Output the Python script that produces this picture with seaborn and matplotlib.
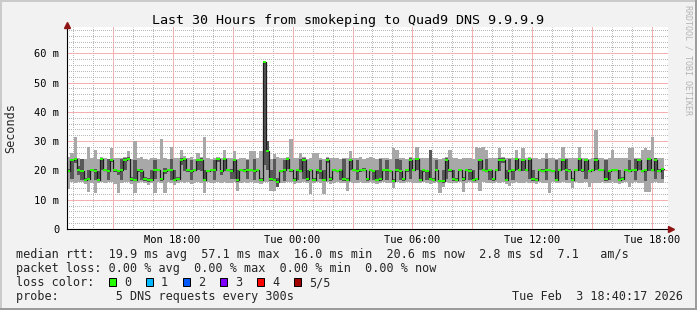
import numpy as np
import pandas as pd
import matplotlib
matplotlib.use("Agg")
import matplotlib.pyplot as plt
import seaborn as sns
from matplotlib.patches import Rectangle
from matplotlib.ticker import FixedLocator

# ---------------- data (ms), one value per ~10 min sample ----------------
median = [19.9, 23.6, 23.9, 20.1, 19.8, 16.9, 17.2, 20.0, 19.9, 16.8,
          23.8, 20.1, 19.9, 23.5, 20.0, 19.9, 20.2, 23.7, 24.0, 17.0,
          16.9, 20.0, 19.8, 17.1, 16.8, 16.9, 20.0, 20.1, 17.0, 19.9,
          20.0, 20.1, 16.9, 17.2, 23.6, 23.9, 20.0, 19.9, 20.1, 23.7,
          23.5, 16.9, 19.9, 20.0, 20.0, 23.8, 19.9, 24.0, 20.1, 19.9,
          23.6, 16.8, 20.0, 19.9, 20.1, 20.0, 19.9, 20.0, 16.9, 57.1,
          26.7, 17.0, 16.9, 16.0, 19.8, 20.1, 23.9, 20.0, 16.9, 20.0,
          19.9, 23.7, 17.0, 20.1, 16.9, 20.0, 19.9, 16.8, 23.5, 17.1,
          20.0, 19.9, 20.1, 17.0, 16.9, 23.6, 20.0, 19.9, 20.1, 20.0,
          17.0, 20.0, 19.9, 16.9, 17.1, 20.0, 20.1, 19.9, 16.4, 20.0,
          19.9, 17.0, 20.0, 23.5, 20.1, 23.8, 16.9, 20.0, 19.9, 17.1,
          16.9, 20.0, 16.4, 16.5, 23.7, 20.0, 17.0, 16.9, 20.1, 17.0,
          20.0, 19.9, 16.9, 17.1, 23.6, 20.0, 19.9, 20.1, 17.0, 20.0,
          23.7, 23.5, 16.8, 19.9, 20.0, 23.8, 20.0, 23.6, 20.1, 23.9,
          17.0, 16.8, 20.0, 19.9, 20.1, 20.0, 19.9, 16.9, 20.0, 23.6,
          20.0, 19.9, 16.9, 20.1, 23.8, 20.0, 23.5, 19.9, 20.0, 23.7,
          20.0, 20.1, 17.0, 19.9, 20.0, 20.1, 16.9, 17.1, 20.0, 19.9,
          20.1, 20.0, 23.6, 19.9, 20.0, 23.8, 20.0, 23.5, 19.9, 20.6]

ping_min = [13.5, 16.0, 15.8, 16.2, 15.9, 15.5, 12.5, 15.8, 12.2, 15.6,
            16.1, 15.7, 15.9, 16.0, 15.5, 12.3, 15.8, 16.0, 15.9, 15.4,
            12.2, 15.8, 16.0, 15.6, 15.2, 15.8, 12.4, 15.9, 15.7, 12.3,
            15.9, 15.6, 15.2, 15.8, 16.0, 15.7, 15.9, 15.5, 15.8, 16.0,
            15.7, 12.4, 15.9, 15.6, 15.8, 16.0, 15.7, 15.9, 15.6, 15.8,
            15.9, 13.0, 15.8, 16.0, 15.7, 15.9, 15.6, 15.8, 15.5, 16.0,
            16.0, 13.0, 13.0, 14.5, 15.8, 15.7, 16.0, 15.9, 15.5, 15.8,
            15.7, 15.9, 15.8, 12.0, 15.6, 15.9, 15.7, 12.0, 15.9, 15.5,
            15.8, 15.9, 15.7, 15.6, 13.0, 15.9, 15.8, 15.7, 16.0, 15.8,
            15.7, 15.9, 15.8, 15.5, 15.7, 15.9, 15.6, 15.8, 14.0, 15.9,
            15.8, 15.6, 15.9, 16.0, 15.7, 15.8, 15.6, 15.9, 15.8, 15.5,
            15.6, 15.9, 12.2, 14.5, 15.9, 15.7, 15.8, 15.6, 15.9, 12.6,
            15.7, 15.9, 15.6, 15.8, 13.0, 15.9, 15.7, 15.8, 15.6, 15.9,
            15.8, 15.9, 15.5, 14.8, 15.7, 15.9, 15.8, 15.6, 15.9, 15.8,
            15.6, 15.5, 15.9, 15.7, 15.8, 12.2, 15.9, 15.6, 15.8, 15.9,
            15.7, 15.8, 14.0, 15.9, 15.8, 15.6, 15.9, 14.5, 15.8, 15.7,
            15.8, 15.9, 15.6, 15.8, 15.9, 15.7, 15.5, 15.8, 15.9, 14.5,
            15.7, 15.9, 15.8, 15.6, 12.6, 12.8, 15.7, 15.9, 15.8, 15.6]

ping_q1 = [19.5, 17.0, 22.5, 18.6, 16.8, 16.3, 16.6, 19.8, 16.9, 16.4,
           20.1, 19.7, 16.8, 23.0, 19.5, 18.4, 16.9, 20.1, 23.5, 16.5,
           16.3, 19.6, 16.7, 16.5, 16.2, 16.6, 17.0, 19.8, 16.5, 18.8,
           19.7, 16.9, 16.3, 16.6, 22.0, 19.9, 19.4, 16.8, 19.8, 20.2,
           19.7, 16.5, 19.6, 19.8, 16.8, 23.0, 18.5, 19.9, 19.8, 17.0,
           17.0, 16.2, 19.9, 19.5, 17.0, 19.7, 16.8, 19.8, 16.4, 22.0,
           20.0, 16.3, 16.4, 14.5, 19.5, 16.5, 20.5, 19.6, 16.3, 16.8,
           19.8, 17.0, 16.5, 19.7, 16.4, 18.9, 17.0, 16.3, 22.5, 16.5,
           19.9, 19.5, 16.9, 16.4, 16.5, 20.1, 19.8, 16.7, 19.6, 19.9,
           16.5, 19.7, 16.7, 16.3, 16.5, 19.8, 16.6, 19.8, 16.0, 19.4,
           16.9, 16.5, 19.6, 17.0, 19.8, 20.0, 16.4, 19.5, 16.7, 16.6,
           16.3, 19.8, 15.9, 15.8, 17.0, 19.6, 16.5, 16.4, 19.9, 16.3,
           19.7, 16.8, 16.4, 16.6, 20.0, 19.8, 19.5, 16.9, 16.5, 19.9,
           19.9, 22.5, 16.3, 19.6, 16.9, 20.1, 19.8, 19.9, 19.7, 17.0,
           16.5, 16.3, 19.8, 19.6, 16.7, 19.7, 19.8, 16.5, 19.9, 20.0,
           16.9, 19.8, 16.4, 19.7, 19.9, 19.6, 17.0, 19.8, 19.9, 20.2,
           19.8, 19.9, 16.5, 16.7, 19.7, 19.8, 16.3, 16.6, 19.8, 19.5,
           19.9, 16.9, 20.0, 19.7, 16.5, 19.9, 19.8, 17.0, 19.6, 17.0]

ping_q3 = [20.4, 24.0, 24.3, 21.5, 23.8, 17.4, 20.2, 20.3, 20.6, 19.9,
           24.2, 20.5, 23.9, 24.0, 20.4, 20.3, 23.8, 24.1, 24.5, 17.6,
           23.6, 20.4, 20.5, 17.6, 17.3, 20.0, 23.7, 20.5, 17.5, 21.0,
           20.3, 23.8, 20.0, 17.6, 24.1, 24.3, 20.4, 23.7, 20.4, 24.0,
           24.2, 20.1, 20.3, 20.3, 23.6, 24.4, 20.2, 24.3, 20.5, 20.4,
           24.0, 20.0, 20.3, 20.4, 23.6, 20.2, 23.9, 20.4, 17.5, 57.1,
           30.0, 20.1, 23.8, 17.5, 20.2, 23.7, 24.2, 20.6, 17.4, 20.3,
           23.8, 24.1, 20.0, 20.5, 17.4, 20.3, 23.6, 20.0, 24.2, 17.6,
           20.4, 20.3, 20.2, 23.9, 17.3, 24.0, 20.3, 23.6, 20.4, 21.0,
           17.5, 20.3, 20.3, 20.1, 23.8, 20.4, 23.6, 20.2, 17.0, 24.0,
           23.7, 17.5, 20.3, 24.1, 20.4, 24.3, 20.0, 20.6, 20.2, 26.9,
           17.5, 23.7, 16.9, 20.0, 24.2, 20.3, 20.1, 17.4, 20.3, 17.6,
           20.4, 20.4, 20.0, 17.5, 24.0, 20.3, 23.9, 20.2, 17.5, 20.4,
           24.1, 24.3, 20.0, 23.8, 20.3, 24.2, 20.5, 24.0, 20.4, 24.3,
           20.0, 17.4, 20.3, 20.4, 23.9, 20.1, 20.3, 23.7, 20.2, 24.0,
           23.8, 20.4, 17.4, 20.3, 24.2, 20.3, 23.9, 20.2, 20.3, 24.1,
           20.3, 20.4, 23.6, 20.1, 20.4, 20.4, 20.0, 17.6, 20.3, 23.7,
           20.4, 23.9, 24.0, 20.3, 20.5, 24.2, 20.4, 24.1, 20.6, 20.8]

ping_max = [24.5, 26.0, 31.4, 24.3, 24.0, 23.8, 28.0, 24.4, 27.0, 24.0,
            24.6, 24.2, 24.0, 27.5, 24.3, 24.1, 24.4, 24.6, 26.5, 24.0,
            30.0, 24.2, 24.5, 24.0, 23.5, 24.1, 24.4, 24.0, 30.6, 24.3,
            24.0, 28.0, 24.2, 24.4, 27.0, 24.8, 24.3, 24.5, 24.0, 26.0,
            24.6, 31.5, 24.4, 24.0, 24.3, 24.7, 24.2, 27.0, 24.4, 24.1,
            26.5, 24.0, 24.2, 24.4, 24.0, 26.5, 26.6, 24.3, 26.6, 57.1,
            30.0, 24.0, 25.5, 24.5, 24.2, 24.4, 24.6, 30.8, 24.1, 24.3,
            26.0, 24.5, 24.0, 24.4, 26.0, 26.0, 24.2, 24.0, 24.6, 24.3,
            24.4, 24.2, 24.0, 24.4, 24.1, 26.5, 24.3, 24.2, 24.5, 24.0,
            24.2, 24.5, 24.1, 24.0, 24.4, 24.2, 24.3, 24.0, 27.6, 27.0,
            24.4, 24.2, 24.0, 24.6, 24.3, 28.0, 24.2, 24.4, 24.1, 26.9,
            24.2, 24.4, 24.0, 24.3, 24.6, 27.0, 24.2, 24.4, 24.0, 24.3,
            24.4, 24.2, 24.0, 28.0, 27.5, 28.0, 27.0, 24.3, 24.2, 24.4,
            27.5, 24.6, 24.2, 24.4, 24.3, 27.0, 24.2, 27.5, 24.4, 24.6,
            24.2, 24.4, 24.0, 24.3, 26.0, 24.2, 24.4, 24.0, 24.3, 28.0,
            24.2, 24.4, 24.1, 24.3, 28.0, 24.4, 24.2, 24.0, 24.3, 33.8,
            24.4, 24.2, 24.0, 24.3, 27.0, 24.4, 24.1, 24.2, 24.4, 27.5,
            27.5, 24.2, 24.4, 27.0, 27.5, 27.0, 31.5, 24.4, 24.3, 24.2]

# time span of the samples, hours since Mon 00:00
t_first = 12 + 43 / 60
t_last = 42 + 35 / 60
view_start = 12 + 43 / 60
view_end = 42 + 47 / 60

tick_hours = [18, 24, 30, 36, 42]
tick_labels = ["Mon 18:00", "Tue 00:00", "Tue 06:00", "Tue 12:00", "Tue 18:00"]
ytick_vals = [0, 10, 20, 30, 40, 50, 60]
ytick_labels = ["0", "10 m", "20 m", "30 m", "40 m", "50 m", "60 m"]

title = "Last 30 Hours from smokeping to Quad9 DNS 9.9.9.9"
line_median = "median rtt:  19.9 ms avg  57.1 ms max  16.0 ms min  20.6 ms now  2.8 ms sd  7.1   am/s"
line_loss = "packet loss: 0.00 % avg  0.00 % max  0.00 % min  0.00 % now"
line_probe = "probe:        5 DNS requests every 300s"
stamp = "Tue Feb  3 18:40:17 2026"
loss_labels = ["0", "1", "2", "3", "4", "5/5"]
loss_colors = ["#26ff00", "#00b8ff", "#0059ff", "#7e00ff", "#ff0000", "#a10000"]

# ---------------- build table ----------------
n = len(median)
edges = np.linspace(t_first, t_last, n + 1)
df = pd.DataFrame({"t": edges[:-1], "t_end": edges[1:], "median": median,
                   "p1": ping_min, "p2": ping_q1, "p4": ping_q3, "p5": ping_max})
df["p2"] = np.minimum(df["p2"], df["median"])
df["p4"] = np.maximum(df["p4"], df["median"])

def ext(col):
    v = df[col].to_numpy()
    return np.append(v, v[-1])

W, H = 697, 310
BG = "#f2f2f2"
sns.set_theme(style="white")
plt.rcParams["font.family"] = ["DejaVu Sans Mono", "DejaVu Sans"]
plt.rcParams["lines.scale_dashes"] = False

fig = plt.figure(figsize=(W / 100, H / 100), dpi=100, facecolor=BG)
ax_l, ax_r, ax_t, ax_b = 67.0, 668.0, 27.0, 229.0
ax = fig.add_axes([ax_l / W, (H - ax_b) / H, (ax_r - ax_l) / W, (ax_b - ax_t) / H])
ax.set_facecolor("white")

# smoke
ax.fill_between(edges, ext("p1"), ext("p2"), step="post", color="#a8a8a8", lw=0, zorder=1)
ax.fill_between(edges, ext("p4"), ext("p5"), step="post", color="#a8a8a8", lw=0, zorder=1)
ax.fill_between(edges, ext("p2"), ext("p4"), step="post", color="#585858", lw=0, zorder=1.2)

# median line: dark connectors, green level segments
sns.lineplot(x=edges, y=ext("median"), drawstyle="steps-post", color="#1c1c1c",
             lw=0.9, ax=ax, estimator=None, sort=False, zorder=3)
ax.hlines(df["median"], df["t"], df["t_end"], colors=loss_colors[0], lw=1.4, zorder=4)

ax.set_xlim(view_start, view_end)
ax.set_ylim(0, 69)

# grid below the smoke: minor dotted grey, major light red (no overlaps)
major_x = [h for h in range(13, 43) if h % 3 == 0]
minor_x = [h for h in range(13, 43) if h % 3 != 0]
minor_y = [v for v in range(2, 69, 2) if v % 10 != 0]
ax.set_xticks(major_x)
ax.set_xticklabels([tick_labels[tick_hours.index(h)] if h in tick_hours else "" for h in major_x])
ax.set_yticks(ytick_vals)
ax.set_yticklabels(ytick_labels)
ax.xaxis.set_minor_locator(FixedLocator(minor_x))
ax.yaxis.set_minor_locator(FixedLocator(minor_y))
ax.set_axisbelow(True)
dots = (0.36, (0.72, 0.72))
ax.grid(which="minor", color="#b8b8b8", ls=dots, lw=0.72, antialiased=True)
ax.grid(which="major", color="#f5b0b0", ls=dots, lw=0.72, antialiased=False, snap=True)

ax.tick_params(axis="both", which="major", direction="out", length=2.2, width=0.72,
               color="black", labelsize=7.5, labelcolor="black")
ax.tick_params(axis="both", which="minor", direction="out", length=1.4, width=0.72, color="black")
ax.tick_params(axis="x", which="major", pad=2.2)
ax.tick_params(axis="y", which="major", pad=3.2)

for s in ["top", "right"]:
    ax.spines[s].set_visible(False)
for s in ["left", "bottom"]:
    ax.spines[s].set_color("black")
    ax.spines[s].set_linewidth(0.8)
    ax.spines[s].set_zorder(5)
ax.set_xlabel("")
ax.set_ylabel("")

# arrows
ax.plot([1.0 + 3 / (ax_r - ax_l)], [0], marker=">", ms=4.5, color="#8f1414",
        transform=ax.transAxes, clip_on=False, zorder=6, mec="#8f1414")
ax.plot([0], [1.0 + 2 / (ax_b - ax_t)], marker="^", ms=4.5, color="#8f1414",
        transform=ax.transAxes, clip_on=False, zorder=6, mec="#8f1414")

def fx(x):
    return x / W

def fy(y):
    return (H - y) / H

# texts
fig.text(fx(348), fy(24), title, fontsize=9.6, ha="center", va="baseline", color="black")
fig.text(fx(10.7), fy(127.8), "Seconds", fontsize=8.5, rotation=90, ha="center", va="center")
fig.text(fx(688), fy(5), "RRDTOOL / TOBI OETIKER", fontsize=6.0, rotation=270,
         ha="center", va="top", color="#b4b4b4")

LX = 16
fig.text(fx(LX), fy(258.3), line_median, fontsize=8.5, va="baseline", ha="left")
fig.text(fx(LX), fy(272.3), line_loss, fontsize=8.5, va="baseline", ha="left")
fig.text(fx(LX), fy(286.3), "loss color:", fontsize=8.5, va="baseline", ha="left")
fig.text(fx(LX), fy(300.3), line_probe, fontsize=8.5, va="baseline", ha="left")
fig.text(fx(683), fy(300.3), stamp, fontsize=8.5, va="baseline", ha="right")

for i, (lab, col) in enumerate(zip(loss_labels, loss_colors)):
    bx = 108.7 + 37 * i
    fig.add_artist(Rectangle((fx(bx), fy(286.2)), 7.6 / W, 7.8 / H, transform=fig.transFigure,
                             facecolor=col, edgecolor="black", lw=0.72))
    fig.text(fx(bx + 15.3), fy(286.3), lab, fontsize=8.5, va="baseline", ha="left")

# 3d border
fig.add_artist(Rectangle((0, 1 - 2 / H), 1, 2 / H, transform=fig.transFigure, color="#cbcbcb", lw=0))
fig.add_artist(Rectangle((0, 0), 2 / W, 1, transform=fig.transFigure, color="#cbcbcb", lw=0))
fig.add_artist(Rectangle((0, 0), 1, 2 / H, transform=fig.transFigure, color="#9c9c9c", lw=0))
fig.add_artist(Rectangle((1 - 2 / W, 0), 2 / W, 1, transform=fig.transFigure, color="#9c9c9c", lw=0))

fig.savefig("out.png", dpi=100, facecolor=BG)
